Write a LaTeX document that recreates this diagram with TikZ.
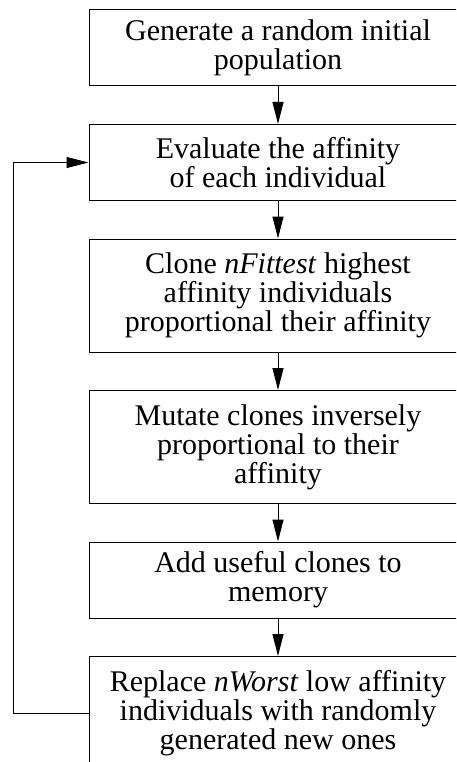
\documentclass[tikz,border=0pt]{standalone}
\usepackage{fontspec}
\setmainfont{Liberation Serif}
\usetikzlibrary{positioning,arrows.meta}

\begin{document}
\begin{tikzpicture}[x=1pt, y=1pt, node distance=37.5pt,
    stepbox/.style={draw, line width=1pt, minimum width=378pt, inner sep=0pt,
      align=center, font=\fontsize{30}{29}\selectfont},
    twoline/.style={stepbox, minimum height=76pt},
    threeline/.style={stepbox, minimum height=113pt},
    flow/.style={-{Triangle[length=22pt,width=11pt]}, line width=1pt}]
  \useasboundingbox (0,0) rectangle (456,-762);
  \clip (0,0) rectangle (456,-762);
  \node[twoline] (init) at (278,-48) {Generate a random initial\\population};
  \node[twoline, below=of init] (eval) {Evaluate the affinity\\of each individual};
  \node[threeline, below=of eval] (clone) {Clone \textit{nFittest} highest\\affinity individuals\\proportional their affinity};
  \node[threeline, below=of clone] (mutate) {Mutate clones inversely\\proportional to their\\affinity};
  \node[twoline, below=of mutate] (memory) {Add useful clones to\\memory};
  \node[threeline, below=of memory] (replace) {Replace \textit{nWorst} low affinity\\individuals with randomly\\generated new ones};
  \foreach \a/\b in {init/eval, eval/clone, clone/mutate, mutate/memory, memory/replace} {
    \draw[flow] (\a) -- (\b);
  }
  \draw[flow] (replace.west) -- ++(-75.5,0) |- (eval.west);
\end{tikzpicture}
\end{document}
